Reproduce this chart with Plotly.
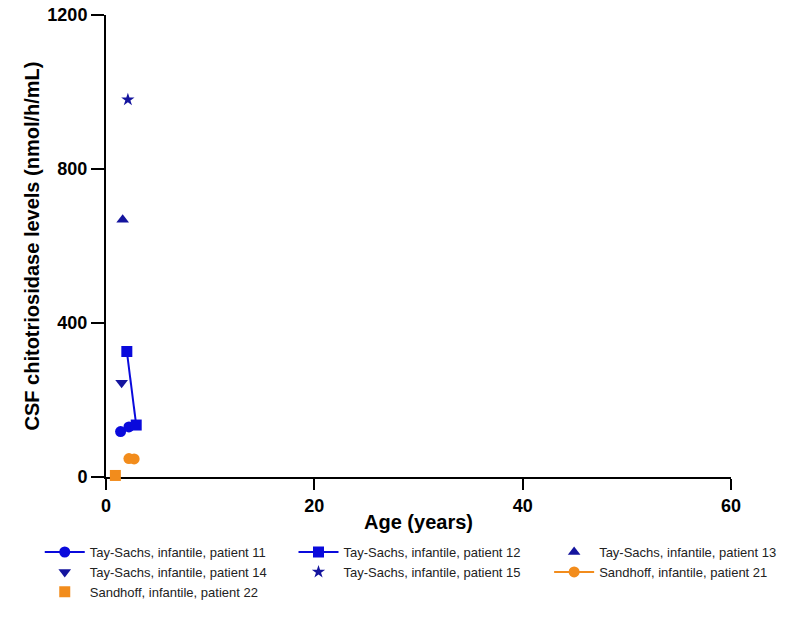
import plotly.graph_objects as go

# Data
p11_age = [1.4, 2.2]
p11_val = [118, 130]
p12_age = [2.0, 2.9]
p12_val = [326, 135]
p13_age = [1.6]
p13_val = [668]
p14_age = [1.5]
p14_val = [245]
p15_age = [2.1]
p15_val = [980]
p21_age = [2.2, 2.7]
p21_val = [48, 47]
p22_age = [0.9]
p22_val = [4]

names = [
    "Tay-Sachs, infantile, patient 11",
    "Tay-Sachs, infantile, patient 12",
    "Tay-Sachs, infantile, patient 13",
    "Tay-Sachs, infantile, patient 14",
    "Tay-Sachs, infantile, patient 15",
    "Sandhoff, infantile, patient 21",
    "Sandhoff, infantile, patient 22",
]

blue = "#0A0ADC"
navy = "#14149E"
orange = "#F28C1C"

fig = go.Figure()
fig.add_trace(go.Scatter(x=p11_age, y=p11_val, name=names[0], mode="lines+markers", legend="legend",
                         line=dict(color=blue, width=2),
                         marker=dict(symbol="circle", size=11, color=blue), cliponaxis=False))
fig.add_trace(go.Scatter(x=p12_age, y=p12_val, name=names[1], mode="lines+markers", legend="legend2",
                         line=dict(color=blue, width=2),
                         marker=dict(symbol="square", size=11, color=blue), cliponaxis=False))
fig.add_trace(go.Scatter(x=p13_age, y=p13_val, name=names[2], mode="markers", legend="legend3",
                         marker=dict(symbol="triangle-up", size=11, color=navy), cliponaxis=False))
fig.add_trace(go.Scatter(x=p14_age, y=p14_val, name=names[3], mode="markers", legend="legend",
                         marker=dict(symbol="triangle-down", size=11, color=navy), cliponaxis=False))
fig.add_trace(go.Scatter(x=p15_age, y=p15_val, name=names[4], mode="markers", legend="legend2",
                         marker=dict(symbol="star", size=10, color=navy), cliponaxis=False))
fig.add_trace(go.Scatter(x=p21_age, y=p21_val, name=names[5], mode="lines+markers", legend="legend3",
                         line=dict(color=orange, width=2),
                         marker=dict(symbol="circle", size=11, color=orange), cliponaxis=False))
fig.add_trace(go.Scatter(x=p22_age, y=p22_val, name=names[6], mode="markers", legend="legend",
                         marker=dict(symbol="square", size=11, color=orange), cliponaxis=False))

tickfont = dict(family="Liberation Sans, Arial, sans-serif", size=18, color="black")
titlefont = dict(family="Liberation Sans, Arial, sans-serif", size=20, color="black")
legfont = dict(family="Liberation Sans, Arial, sans-serif", size=13, color="#222")

def leg(xpos):
    return dict(orientation="v", x=xpos, xanchor="left", y=-0.13, yanchor="top",
                font=legfont, tracegroupgap=0, itemwidth=40, bgcolor="rgba(0,0,0,0)")

fig.update_layout(
    width=801, height=634,
    margin=dict(l=106, r=70, t=15, b=157, autoexpand=False),
    plot_bgcolor="white", paper_bgcolor="white",
    showlegend=True,
    legend=leg(-0.106),
    legend2=leg(0.300),
    legend3=leg(0.709),
    xaxis=dict(range=[0, 60], tickvals=[0, 20, 40, 60], ticktext=["<b>0</b>", "<b>20</b>", "<b>40</b>", "<b>60</b>"],
               showline=True, linecolor="black", linewidth=2, ticks="outside",
               ticklen=11, tickwidth=2, tickcolor="black", showgrid=False, zeroline=False,
               tickfont=tickfont, layer="below traces", ticklabeloverflow="allow",
               title=dict(text="<b>Age (years)</b>", font=titlefont, standoff=0)),
    yaxis=dict(range=[0, 1200], tickvals=[0, 400, 800, 1200],
               ticktext=["<b>0</b>", "<b>400</b>", "<b>800</b>", "<b>1200</b>"],
               showline=True, linecolor="black", linewidth=2, ticks="outside",
               ticklen=13, tickwidth=2, tickcolor="black", showgrid=False, zeroline=False,
               tickfont=tickfont, layer="below traces", ticklabeloverflow="allow",
               title=dict(text="<b>CSF chitotriosidase levels (nmol/h/mL)</b>", font=titlefont, standoff=2)),
)

fig.write_html("out.html", config={"displayModeBar": False},
               post_script="document.body.style.margin='0px';")
